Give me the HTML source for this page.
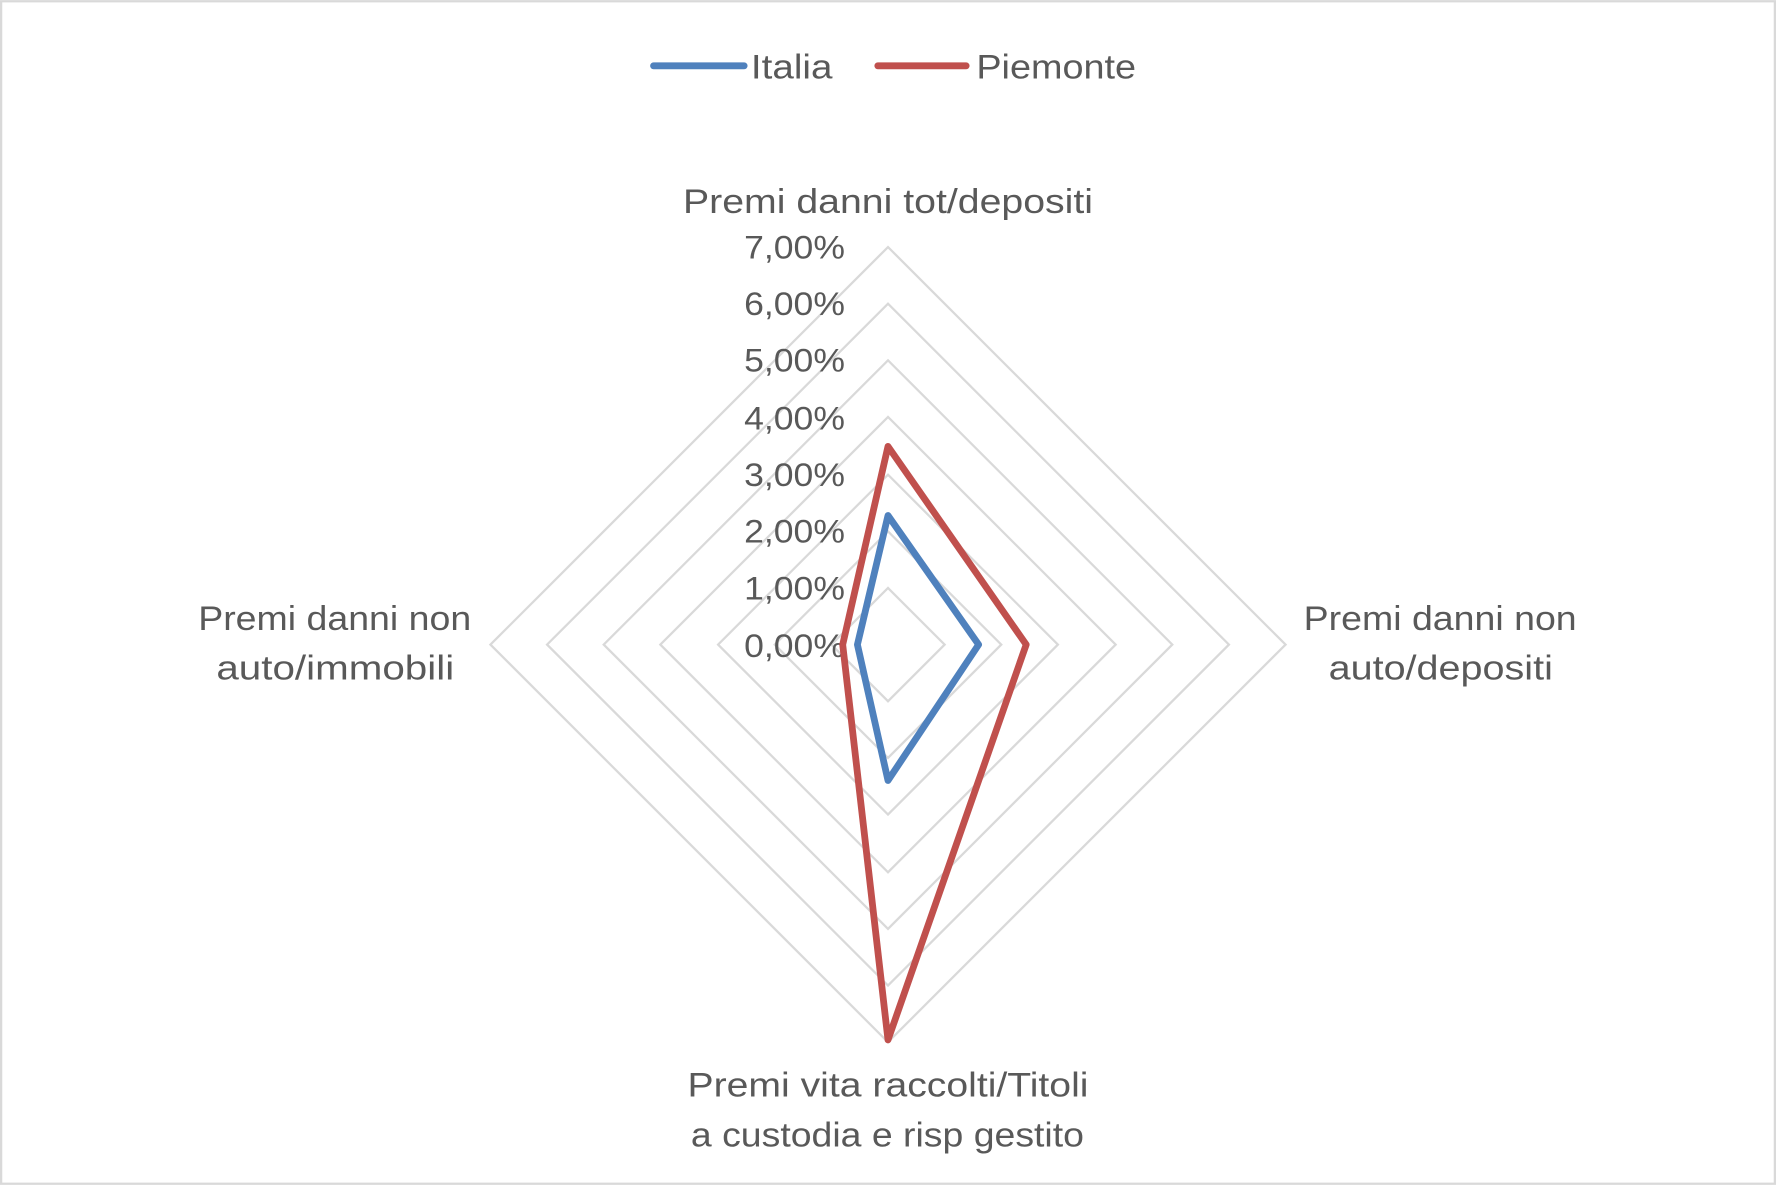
<!DOCTYPE html>
<html><head><meta charset="utf-8"><style>
html,body{margin:0;padding:0;background:#fff;}
svg{display:block;}
text{font-family:"Liberation Sans",sans-serif;fill:#595959;}
</style></head><body>
<svg width="1776" height="1185" viewBox="0 0 1568 1046" xmlns="http://www.w3.org/2000/svg">
<rect x="1" y="1" width="1566" height="1044" fill="#fff" stroke="#d9d9d9" stroke-width="2"/>
<g fill="none" stroke="#d9d9d9" stroke-width="2">
<polygon points="784,519 834,569 784,619 734,569"/>
<polygon points="784,469 884,569 784,669 684,569"/>
<polygon points="784,419 934,569 784,719 634,569"/>
<polygon points="784,368 985,569 784,770 583,569"/>
<polygon points="784,318 1035,569 784,820 533,569"/>
<polygon points="784,268 1085,569 784,870 483,569"/>
<polygon points="784,218 1135,569 784,920 433,569"/>
</g>
<g font-size="29" text-anchor="end">
<text x="746" y="228" textLength="89" lengthAdjust="spacingAndGlyphs">7,00%</text>
<text x="746" y="278" textLength="89" lengthAdjust="spacingAndGlyphs">6,00%</text>
<text x="746" y="328" textLength="89" lengthAdjust="spacingAndGlyphs">5,00%</text>
<text x="746" y="379" textLength="89" lengthAdjust="spacingAndGlyphs">4,00%</text>
<text x="746" y="429" textLength="89" lengthAdjust="spacingAndGlyphs">3,00%</text>
<text x="746" y="479" textLength="89" lengthAdjust="spacingAndGlyphs">2,00%</text>
<text x="746" y="529" textLength="89" lengthAdjust="spacingAndGlyphs">1,00%</text>
<text x="746" y="580" textLength="89" lengthAdjust="spacingAndGlyphs">0,00%</text>
</g>
<polygon points="784,455 864,569 784,689 757,569" fill="none" stroke="#4f81bd" stroke-width="6" stroke-linejoin="round"/>
<polygon points="784,394 906,569 784,918 744,569" fill="none" stroke="#c0504d" stroke-width="6" stroke-linejoin="round"/>
<g font-size="30" lengthAdjust="spacingAndGlyphs">
<text x="603" y="188" textLength="362" lengthAdjust="spacingAndGlyphs">Premi danni tot/depositi</text>
<text x="1151" y="556" textLength="241" lengthAdjust="spacingAndGlyphs">Premi danni non</text>
<text x="1173" y="600" textLength="198" lengthAdjust="spacingAndGlyphs">auto/depositi</text>
<text x="175" y="556" textLength="241" lengthAdjust="spacingAndGlyphs">Premi danni non</text>
<text x="191" y="600" textLength="210" lengthAdjust="spacingAndGlyphs">auto/immobili</text>
<text x="607" y="968" textLength="354" lengthAdjust="spacingAndGlyphs">Premi vita raccolti/Titoli</text>
<text x="610" y="1012" textLength="347" lengthAdjust="spacingAndGlyphs">a custodia e risp gestito</text>
</g>
<line x1="577" y1="58" x2="657" y2="58" stroke="#4f81bd" stroke-width="6" stroke-linecap="round"/>
<text x="663" y="69" font-size="30" textLength="72" lengthAdjust="spacingAndGlyphs">Italia</text>
<line x1="775" y1="58" x2="853" y2="58" stroke="#c0504d" stroke-width="6" stroke-linecap="round"/>
<text x="862" y="69" font-size="30" textLength="141" lengthAdjust="spacingAndGlyphs">Piemonte</text>
</svg>
</body></html>
